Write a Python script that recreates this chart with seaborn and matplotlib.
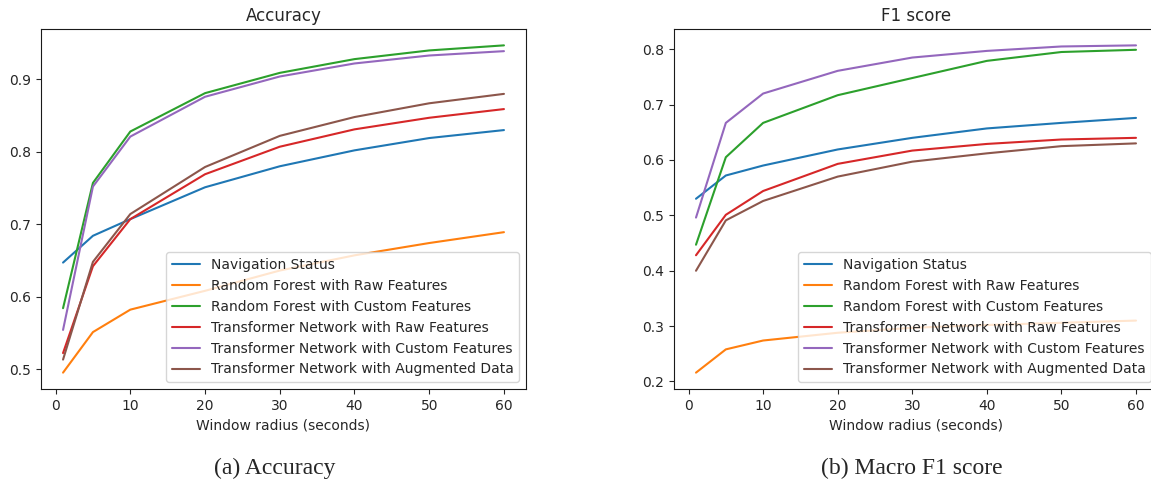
import numpy as np
import pandas as pd
import matplotlib
matplotlib.use("Agg")
import matplotlib.pyplot as plt
import seaborn as sns

# window radius (seconds)
radius = [1, 5, 10, 20, 30, 40, 50, 60]

models = ["Navigation Status",
          "Random Forest with Raw Features",
          "Random Forest with Custom Features",
          "Transformer Network with Raw Features",
          "Transformer Network with Custom Features",
          "Transformer Network with Augmented Data"]

# accuracy
acc_nav = [0.647, 0.684, 0.707, 0.751, 0.780, 0.802, 0.819, 0.830]
acc_rf_raw = [0.495, 0.551, 0.582, 0.608, 0.636, 0.657, 0.674, 0.689]
acc_rf_custom = [0.584, 0.757, 0.828, 0.881, 0.909, 0.928, 0.940, 0.947]
acc_tn_raw = [0.522, 0.642, 0.707, 0.769, 0.807, 0.831, 0.847, 0.859]
acc_tn_custom = [0.554, 0.752, 0.821, 0.876, 0.904, 0.922, 0.933, 0.939]
acc_tn_aug = [0.513, 0.648, 0.714, 0.779, 0.822, 0.848, 0.867, 0.880]

# macro F1
f1_nav = [0.530, 0.572, 0.590, 0.619, 0.640, 0.657, 0.667, 0.676]
f1_rf_raw = [0.216, 0.258, 0.274, 0.288, 0.297, 0.302, 0.306, 0.310]
f1_rf_custom = [0.447, 0.605, 0.667, 0.717, 0.748, 0.779, 0.795, 0.799]
f1_tn_raw = [0.428, 0.501, 0.544, 0.593, 0.617, 0.629, 0.637, 0.640]
f1_tn_custom = [0.496, 0.667, 0.720, 0.761, 0.785, 0.797, 0.805, 0.807]
f1_tn_aug = [0.400, 0.491, 0.526, 0.570, 0.597, 0.612, 0.625, 0.630]


def to_long(series):
    rows = []
    for name, vals in zip(models, series):
        for r, v in zip(radius, vals):
            rows.append({"radius": r, "model": name, "value": v})
    return pd.DataFrame(rows)


df_acc = to_long([acc_nav, acc_rf_raw, acc_rf_custom, acc_tn_raw, acc_tn_custom, acc_tn_aug])
df_f1 = to_long([f1_nav, f1_rf_raw, f1_rf_custom, f1_tn_raw, f1_tn_custom, f1_tn_aug])

sns.set_style("ticks")
plt.rcParams["axes.edgecolor"] = "0.1"

W, H = 1151, 484
fig = plt.figure(figsize=(W / 100, H / 100), dpi=100)

# axes placed in pixel units (left, bottom, width, height)
ax1 = fig.add_axes([41 / W, (H - 389) / H, 485 / W, 360 / H])
ax2 = fig.add_axes([674 / W, (H - 389) / H, 484 / W, 360 / H])

for ax, df, title in [(ax1, df_acc, "Accuracy"), (ax2, df_f1, "F1 score")]:
    sns.lineplot(data=df, x="radius", y="value", hue="model", hue_order=models,
                 palette="tab10", linewidth=1.5, ax=ax)
    ax.set_title(title, fontsize=12)
    ax.set_xlabel("Window radius (seconds)", fontsize=10)
    ax.set_ylabel("")
    ax.set_xticks([0, 10, 20, 30, 40, 50, 60])
    ax.tick_params(labelsize=10)
    sns.move_legend(ax, "lower right", title=None, fontsize=10)

# subfigure captions
fig.text(275 / W, (H - 468) / H, "(a) Accuracy", ha="center", va="center",
         family="Liberation Serif", fontsize=17)
fig.text(912 / W, (H - 468) / H, "(b) Macro F1 score", ha="center", va="center",
         family="Liberation Serif", fontsize=17)

fig.savefig("out.png", dpi=100)
